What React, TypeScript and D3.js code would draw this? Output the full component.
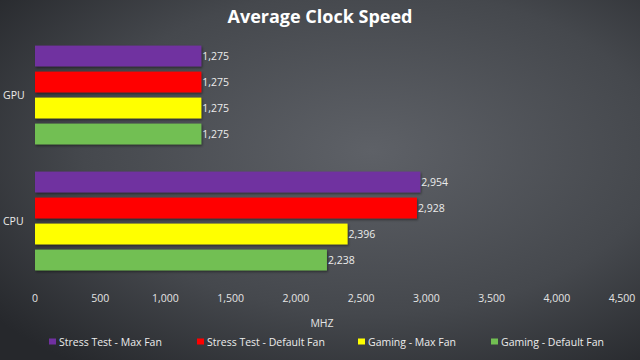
import React from "react";
import * as d3 from "d3";

const categories = ["GPU", "CPU"];
const seriesNames = ["Stress Test - Max Fan", "Stress Test - Default Fan", "Gaming - Max Fan", "Gaming - Default Fan"];
const seriesColors = ["#7030a0", "#ff0000", "#ffff00", "#72bf52"];
const gpuValues = [1275, 1275, 1275, 1275];
const cpuValues = [2954, 2928, 2396, 2238];
const xTicks = [0, 500, 1000, 1500, 2000, 2500, 3000, 3500, 4000, 4500];
const legendX = [49, 197, 358, 491];

export default function App() {
  const W = 640, H = 360;
  const x = d3.scaleLinear().domain([0, 4500]).range([35, 622]);
  const y = d3.scaleBand().domain(categories).range([32, 284]).padding(0);
  const fmt = d3.format(",");
  const valuesByCat: Record<string, number[]> = { GPU: gpuValues, CPU: cpuValues };
  const font = "'Open Sans', 'Noto Sans', sans-serif";
  return (
    <svg width={W} height={H} style={{ position: "absolute", left: 0, top: 0 }} fontFamily={font}>
      <defs>
        <radialGradient id="bg" cx="0.58" cy="0.42" r="0.75">
          <stop offset="0" stopColor="#5e6167" />
          <stop offset="0.6" stopColor="#45484d" />
          <stop offset="1" stopColor="#26282c" />
        </radialGradient>
        <filter id="sh" x="-5%" y="-20%" width="110%" height="150%">
          <feDropShadow dx="1" dy="1.5" stdDeviation="1" floodColor="#000" floodOpacity="0.45" />
        </filter>
      </defs>
      <rect width={W} height={H} fill="url(#bg)" />
      <text x={320} y={23} textAnchor="middle" fill="#fff" fontSize={18} fontWeight="bold">Average Clock Speed</text>
      {categories.map((c) => {
        const b = y(c)!;
        const center = b + y.bandwidth() / 2;
        const inner = d3.scaleBand<number>().domain([0, 1, 2, 3]).range([center - 52, center + 52]).paddingInner(0.2).paddingOuter(0.1);
        return (
          <g key={c}>
            <text x={3} y={center + 4} fill="#ececec" fontSize={10.5}>{c}</text>
            {valuesByCat[c].map((v, i) => (
              <g key={i}>
                <rect x={x(0)} y={inner(i)!} width={x(v) - x(0)} height={inner.bandwidth()} fill={seriesColors[i]} filter="url(#sh)" />
                <text x={x(v) + 1} y={inner(i)! + inner.bandwidth() / 2 + 4} fill="#ececec" fontSize={10.5}>{fmt(v)}</text>
              </g>
            ))}
          </g>
        );
      })}
      {xTicks.map((t) => (
        <text key={t} x={x(t)} y={302} textAnchor="middle" fill="#e4e4e4" fontSize={10.5}>{fmt(t)}</text>
      ))}
      <text x={322} y={327} textAnchor="middle" fill="#e4e4e4" fontSize={10.5}>MHZ</text>
      {seriesNames.map((s, i) => (
        <g key={s}>
          <rect x={legendX[i]} y={338.5} width={7} height={6} fill={seriesColors[i]} />
          <text x={legendX[i] + 10} y={345.5} fill="#ececec" fontSize={10.5}>{s}</text>
        </g>
      ))}
    </svg>
  );
}
